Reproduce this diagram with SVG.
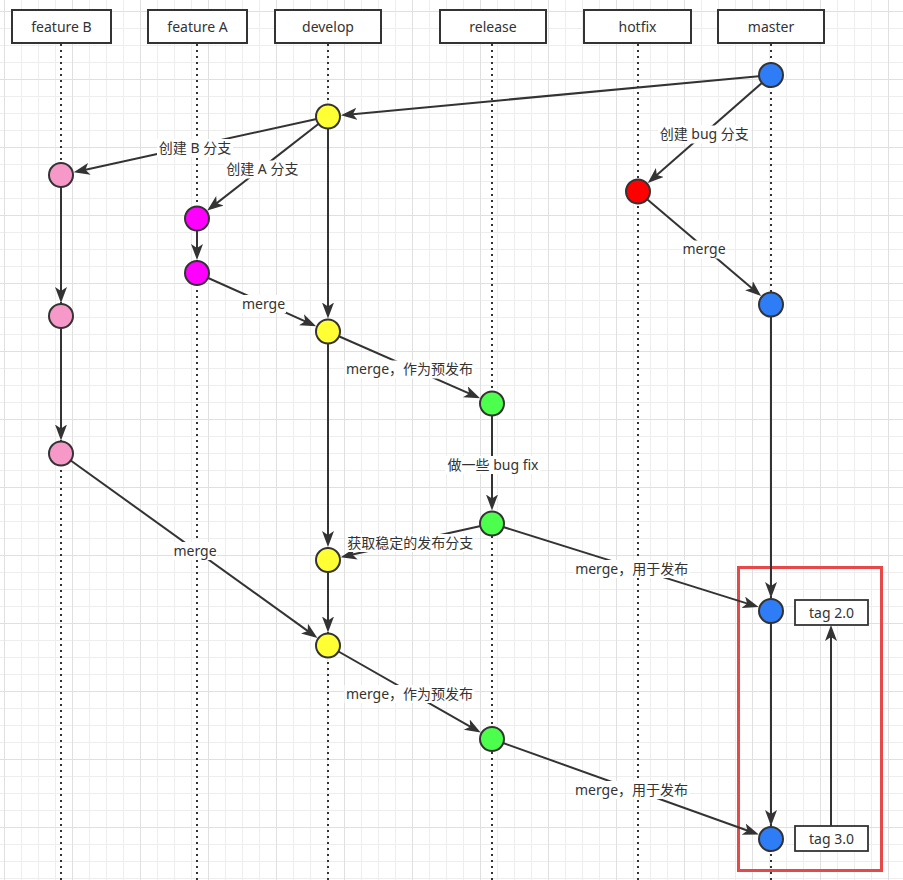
<svg xmlns="http://www.w3.org/2000/svg" width="903" height="880" viewBox="0 0 903 880">
<defs>
<pattern id="gMinor" width="17" height="17" x="4" y="11" patternUnits="userSpaceOnUse">
<path d="M0.5,0 V17 M0,0.5 H17" stroke="#eeeeee" stroke-width="1" fill="none"/>
</pattern>
<pattern id="gMajor" width="68" height="68" x="4" y="11" patternUnits="userSpaceOnUse">
<path d="M0.5,0 V68 M0,0.5 H68" stroke="#e0e0e0" stroke-width="1" fill="none"/>
</pattern>
<marker id="arr" markerUnits="userSpaceOnUse" markerWidth="17" markerHeight="13" refX="12" refY="6" orient="auto">
<path d="M0,0 L16,6 L0,12 L4,6 Z" fill="#333333"/>
</marker>
<style>
.hdr rect{fill:#ffffff;stroke:#333333;stroke-width:2}
.hdr text,.lbl text,.tag text{font-family:"Noto Sans","Noto Sans CJK SC",sans-serif;font-size:14px;fill:#333333;text-anchor:middle}
.life{stroke:#333333;stroke-width:2;stroke-dasharray:2 4;fill:none}
.edge{stroke:#333333;stroke-width:2;fill:none;marker-end:url(#arr)}
.lbl rect{fill:#ffffff}
.node circle{stroke:#333333;stroke-width:2}
.y{fill:#ffff33}.p{fill:#f799c8}.m{fill:#ff00ff}.r{fill:#ff0000}.b{fill:#2e7df6}.g{fill:#4cff4c}
.tag rect{fill:#ffffff;stroke:#333333;stroke-width:1.8}
</style>
</defs>
<rect width="903" height="880" fill="#ffffff"/>
<rect width="903" height="880" fill="url(#gMinor)"/>
<rect width="903" height="880" fill="url(#gMajor)"/>

<g id="lifelines">
<line class="life" x1="61" y1="44" x2="61" y2="880"/>
<line class="life" x1="197" y1="44" x2="197" y2="880"/>
<line class="life" x1="328" y1="44" x2="328" y2="880"/>
<line class="life" x1="492" y1="44" x2="492" y2="880"/>
<line class="life" x1="638" y1="44" x2="638" y2="880"/>
<line class="life" x1="771" y1="44" x2="771" y2="880"/>
</g>

<g id="hdr-featureB" class="hdr"><rect x="12" y="10" width="99" height="33"/><text x="61.5" y="32">feature B</text></g>
<g id="hdr-featureA" class="hdr"><rect x="148" y="10" width="99" height="33"/><text x="197.5" y="32">feature A</text></g>
<g id="hdr-develop" class="hdr"><rect x="275" y="10" width="106" height="33"/><text x="328" y="32">develop</text></g>
<g id="hdr-release" class="hdr"><rect x="440" y="10" width="106" height="33"/><text x="493" y="32">release</text></g>
<g id="hdr-hotfix" class="hdr"><rect x="584" y="10" width="107" height="33"/><text x="637.5" y="32">hotfix</text></g>
<g id="hdr-master" class="hdr"><rect x="718" y="10" width="106" height="33"/><text x="771" y="32">master</text></g>

<rect id="highlight" x="738.5" y="567.5" width="143" height="303" fill="none" stroke="#e94848" stroke-width="3"/>

<g id="connectors">
<line class="edge" x1="771" y1="75" x2="344.9" y2="114.9"/>
<line class="edge" x1="328" y1="116.5" x2="77.6" y2="171.4"/>
<line class="edge" x1="328" y1="116.5" x2="210.4" y2="208.1"/>
<line class="edge" x1="328" y1="116.5" x2="328" y2="314.5"/>
<line class="edge" x1="771" y1="75" x2="650.8" y2="180.3"/>
<line class="edge" x1="638" y1="191.5" x2="758.1" y2="293.5"/>
<line class="edge" x1="61" y1="175" x2="61" y2="299"/>
<line class="edge" x1="197" y1="218.5" x2="197" y2="256"/>
<line class="edge" x1="197" y1="273" x2="312.5" y2="324.6"/>
<line class="edge" x1="328" y1="331.5" x2="476.4" y2="396.7"/>
<line class="edge" x1="61" y1="316" x2="61" y2="436.5"/>
<line class="edge" x1="492" y1="403.5" x2="492" y2="506.5"/>
<line class="edge" x1="328" y1="331.5" x2="328" y2="543"/>
<line class="edge" x1="492" y1="523.5" x2="344.6" y2="556.3"/>
<line class="edge" x1="771" y1="304.5" x2="771" y2="594"/>
<line class="edge" x1="492" y1="523.5" x2="754.8" y2="605.9"/>
<line class="edge" x1="61" y1="453.5" x2="314.2" y2="635.6"/>
<line class="edge" x1="328" y1="560" x2="328" y2="628.5"/>
<line class="edge" x1="328" y1="645.5" x2="477.2" y2="730.6"/>
<line class="edge" x1="771" y1="611" x2="771" y2="822"/>
<line class="edge" x1="492" y1="739" x2="755" y2="833.2"/>
<line class="edge" x1="831" y1="826" x2="831" y2="629"/>

<g class="lbl"><rect x="157" y="139" width="76" height="18"/><text x="195" y="152.5">创建 B 分支</text></g>
<g class="lbl"><rect x="224.5" y="160.5" width="76" height="18"/><text x="262.3" y="174">创建 A 分支</text></g>
<g class="lbl"><rect x="241" y="295" width="45" height="18"/><text x="263.5" y="308.5">merge</text></g>
<g class="lbl"><rect x="658" y="125.5" width="93" height="18"/><text x="704.3" y="139">创建 bug 分支</text></g>
<g class="lbl"><rect x="682" y="240.5" width="44" height="18"/><text x="704" y="254">merge</text></g>
<g class="lbl"><rect x="344.5" y="360.5" width="130" height="18"/><text x="409.5" y="374">merge，作为预发布</text></g>
<g class="lbl"><rect x="445.5" y="456" width="95" height="18"/><text x="493" y="470">做一些 bug fix</text></g>
<g class="lbl"><rect x="346" y="534" width="128.5" height="18"/><text x="410.3" y="548">获取稳定的发布分支</text></g>
<g class="lbl"><rect x="173" y="542" width="44" height="18"/><text x="195" y="556">merge</text></g>
<g class="lbl"><rect x="574" y="560" width="115.5" height="18"/><text x="631.7" y="574">merge，用于发布</text></g>
<g class="lbl"><rect x="344.5" y="685" width="130" height="18"/><text x="409.5" y="699">merge，作为预发布</text></g>
<g class="lbl"><rect x="574" y="781" width="115.5" height="18"/><text x="631.5" y="795">merge，用于发布</text></g>
</g>

<g id="master1" class="node"><circle class="b" cx="771" cy="75" r="12"/></g>
<g id="develop1" class="node"><circle class="y" cx="328" cy="116.5" r="12"/></g>
<g id="featureB1" class="node"><circle class="p" cx="61" cy="175" r="12"/></g>
<g id="featureA1" class="node"><circle class="m" cx="197" cy="218.5" r="12"/></g>
<g id="hotfix1" class="node"><circle class="r" cx="638" cy="191.5" r="12"/></g>
<g id="featureA2" class="node"><circle class="m" cx="197" cy="273" r="12"/></g>
<g id="featureB2" class="node"><circle class="p" cx="61" cy="316" r="12"/></g>
<g id="master2" class="node"><circle class="b" cx="771" cy="304.5" r="12"/></g>
<g id="develop2" class="node"><circle class="y" cx="328" cy="331.5" r="12"/></g>
<g id="release1" class="node"><circle class="g" cx="492" cy="403.5" r="12"/></g>
<g id="featureB3" class="node"><circle class="p" cx="61" cy="453.5" r="12"/></g>
<g id="release2" class="node"><circle class="g" cx="492" cy="523.5" r="12"/></g>
<g id="develop3" class="node"><circle class="y" cx="328" cy="560" r="12"/></g>
<g id="master3" class="node"><circle class="b" cx="771" cy="611" r="12"/></g>
<g id="develop4" class="node"><circle class="y" cx="328" cy="645.5" r="12"/></g>
<g id="release3" class="node"><circle class="g" cx="492" cy="739" r="12"/></g>
<g id="master4" class="node"><circle class="b" cx="771" cy="839" r="12"/></g>

<g id="tag20" class="tag"><rect x="795" y="600" width="73" height="25"/><text x="831.5" y="617.5">tag 2.0</text></g>
<g id="tag30" class="tag"><rect x="795" y="826" width="73" height="25"/><text x="831.5" y="843.5">tag 3.0</text></g>
</svg>
